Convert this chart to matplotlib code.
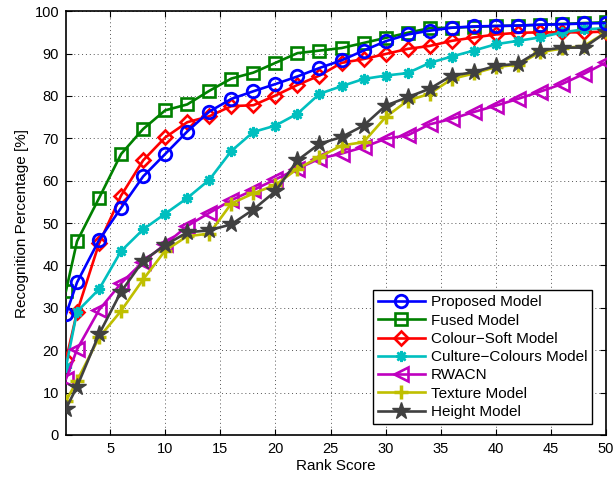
import matplotlib
matplotlib.use('Agg')
import matplotlib.pyplot as plt

plt.rcParams['font.family'] = ['Liberation Sans', 'DejaVu Sans']
plt.rcParams['font.size'] = 10

# rank scores where markers sit
rank = [1] + list(range(2, 51, 2))

proposed = [28.5, 36, 46, 53.6, 61, 66.3, 71.6, 76.3, 79.3, 81.1, 82.8, 84.6, 86.6,
            88.4, 90.7, 92.9, 94.5, 95.4, 96.1, 96.4, 96.5, 96.6, 96.8, 96.9, 97.1, 97.2]
fused = [34, 45.7, 55.9, 66.3, 72.2, 76.6, 78.0, 81.2, 84.1, 85.5, 87.8, 90.1, 90.7,
         91.3, 92.5, 93.7, 94.9, 96.0, 96.1, 96.3, 96.5, 96.6, 96.8, 97.0, 97.2, 97.4]
colour_soft = [17.7, 29, 45.2, 56.5, 64.8, 70.2, 73.8, 75.2, 77.6, 77.8, 80.1, 82.6, 84.8,
               87.8, 88.7, 89.9, 91.1, 91.8, 93.0, 93.8, 94.5, 94.9, 95.0, 95.0, 95.0, 95.2]
culture = [16.1, 29.1, 34.4, 43.4, 48.5, 52.2, 55.9, 60.2, 67.0, 71.5, 73.0, 75.8, 80.5,
           82.3, 84.0, 84.8, 85.4, 87.8, 89.3, 90.7, 92.2, 93.0, 93.8, 95.0, 95.7, 96.0]
rwacn = [13.2, 20.2, 29.5, 35.8, 40.9, 45.0, 49.3, 52.4, 55.4, 57.8, 60.3, 62.8, 65.2,
         66.4, 67.9, 69.9, 70.7, 73.3, 74.6, 76.2, 77.7, 79.3, 81.0, 82.8, 85.2, 87.9]
texture = [8, 12.8, 23, 29.3, 36.7, 43.5, 46.9, 47.5, 54.6, 57.0, 59.0, 62.8, 65.6,
           68.3, 69.1, 75.0, 78.9, 80.5, 84.0, 85.3, 86.8, 87.4, 90.3, 91.2, 91.8, 95.0]
height = [6.2, 11.4, 23.8, 33.8, 41.1, 44.8, 47.8, 48.3, 49.7, 53.2, 57.5, 64.8, 68.7,
          70.3, 73.0, 77.7, 79.7, 81.7, 84.8, 85.6, 87.1, 87.6, 90.7, 91.4, 91.4, 95.0]

labels = ['Proposed Model', 'Fused Model', 'Colour\u2212Soft Model', 'Culture\u2212Colours Model',
          'RWACN', 'Texture Model', 'Height Model']

fig = plt.figure(figsize=(6.14, 4.86), dpi=100)
ax = fig.add_axes([0.1075, 0.105, 0.8795, 0.872])

lw = 1.9

h_fused, = ax.plot(rank, fused, color=(0, 0.5, 0), marker='s', markerfacecolor='none', markersize=8,
                   linewidth=lw, markeredgewidth=1.9, zorder=3)
h_soft, = ax.plot(rank, colour_soft, color=(1, 0, 0), marker='D', markerfacecolor='none', markersize=7.5,
                  linewidth=lw, markeredgewidth=1.9, zorder=3)
h_cult, = ax.plot(rank, culture, color=(0, 0.75, 0.75), marker=(8, 2, 0), markersize=8,
                  linewidth=lw, markeredgewidth=1.8, zorder=3)
h_rwacn, = ax.plot(rank, rwacn, color=(0.75, 0, 0.75), marker='<', markerfacecolor='none', markersize=9.5,
                   linewidth=lw, markeredgewidth=1.9, zorder=3)
h_tex, = ax.plot(rank, texture, color=(0.75, 0.75, 0), marker='+', markersize=9.5,
                 linewidth=lw, markeredgewidth=2.5, zorder=3)
h_height, = ax.plot(rank, height, color=(0.25, 0.25, 0.25), marker='*', markersize=13,
                    linewidth=lw, markeredgewidth=1, zorder=3)
h_prop, = ax.plot(rank, proposed, color=(0, 0, 1), marker='o', markerfacecolor='none', markersize=9,
                  linewidth=lw, markeredgewidth=2, zorder=4)

ax.set_xlim(1, 50)
ax.set_ylim(0, 100)
ax.set_xticks(range(5, 51, 5))
ax.set_yticks(range(0, 101, 10))
ax.tick_params(direction='in', length=4, width=0.8, top=True, right=True, pad=5, labelsize=10.5)
ax.grid(True, linestyle=(0, (1, 3)), color='#555555', linewidth=0.7)
for s in ax.spines.values():
    s.set_linewidth(1.2)

ax.set_xlabel('Rank Score', labelpad=2, fontsize=11)
ax.set_ylabel('Recognition Percentage [%]', labelpad=4, fontsize=11)

leg = ax.legend([h_prop, h_fused, h_soft, h_cult, h_rwacn, h_tex, h_height], labels,
                loc='lower right', bbox_to_anchor=(0.988, 0.008), fancybox=False,
                edgecolor='black', framealpha=1, handlelength=3.1, labelspacing=0.28,
                borderpad=0.32, handletextpad=0.35, fontsize=11)
leg.get_frame().set_linewidth(1.0)

plt.savefig('out.png', dpi=100)
